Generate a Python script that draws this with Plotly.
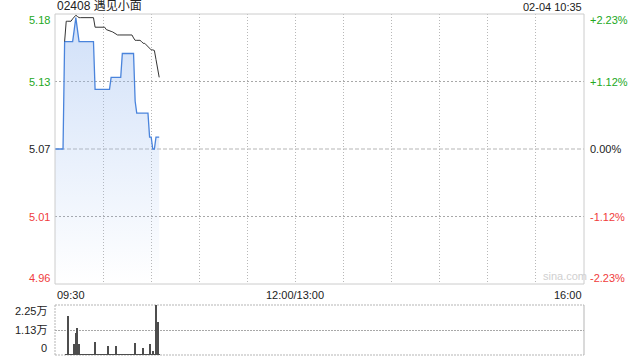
import plotly.graph_objects as go

# ---------------- data ----------------
title_text = "02408 遇见小面"
stamp_text = "02-04 10:35"
prev_close = 5.07
pct_levels = [0.0223, 0.01115, 0.0, -0.01115, -0.0223]
price_tick_labels = ["5.18", "5.13", "5.07", "5.01", "4.96"]
pct_tick_labels = ["+2.23%", "+1.12%", "0.00%", "-1.12%", "-2.23%"]
tick_colors = ["#22a822", "#22a822", "#222222", "#f03c3c", "#f03c3c"]
time_labels = ["09:30", "12:00/13:00", "16:00"]
time_label_pos = [0, 150, 330]          # minutes of trading session
total_minutes = 330
grid_minutes = [30, 60, 90, 120, 150, 180, 210, 240, 270, 300]

minutes = list(range(66))               # 09:30 .. 10:35
price = [5.07, 5.07, 5.07, 5.07, 5.07, 5.07,
         5.16, 5.16, 5.16, 5.16, 5.16,
         5.16, 5.17, 5.18, 5.17, 5.16,
         5.16, 5.16, 5.16, 5.16, 5.16, 5.16, 5.16, 5.16, 5.16,
         5.12, 5.12, 5.12, 5.12, 5.12, 5.12, 5.12, 5.12, 5.12, 5.12,
         5.13, 5.13, 5.13, 5.13, 5.13, 5.13, 5.13,
         5.15, 5.15, 5.15, 5.15, 5.15, 5.15, 5.15, 5.15,
         5.11,
         5.10, 5.10, 5.10, 5.10, 5.10, 5.10, 5.10, 5.10,
         5.08, 5.08,
         5.07, 5.07,
         5.08, 5.08, 5.08]
avg_price = [None, None, None, None, None, None,
             5.160,
             5.177, 5.177, 5.177, 5.177,
             5.179, 5.181, 5.182, 5.181, 5.180,
             5.180, 5.180, 5.180, 5.180, 5.180, 5.180, 5.180, 5.180, 5.180,
             5.172, 5.172, 5.172, 5.172, 5.172, 5.172, 5.172,
             5.170, 5.1697, 5.169, 5.1685, 5.168, 5.167, 5.166,
             5.1655, 5.1655, 5.1655, 5.1655, 5.1655, 5.1655, 5.1655, 5.1655, 5.1655, 5.1655,
             5.163, 5.161, 5.161, 5.161, 5.161,
             5.160, 5.1585, 5.1585, 5.157, 5.1557, 5.154, 5.153, 5.153, 5.1525,
             5.145, 5.136, 5.130]
volume = [0, 0, 0, 0, 0, 0, 0, 200, 17550, 300, 200, 400, 4950, 9750, 12300, 5000,
          300, 200, 300, 200, 300, 200, 300, 200, 400, 6000, 200, 300, 200, 300,
          200, 300, 400, 4000, 300, 200, 300, 200, 4000, 300, 200, 300, 400, 200,
          300, 200, 300, 200, 300, 400, 5500, 300, 200, 300, 400, 3300, 200, 300,
          400, 5000, 300, 1800, 300, 22500, 15000, 300]
vol_max = 22500
vol_tick_vals = [22500, 11250, 0]
vol_tick_labels = ["2.25万", "1.13万", "0"]

# ---------------- figure ----------------
FONT = "Liberation Sans, Arial, Noto Sans CJK SC, sans-serif"
y_top = prev_close * (1 + pct_levels[0])
y_bot = prev_close * (1 + pct_levels[-1])
grid_prices = [prev_close * (1 + pct_levels[1]), prev_close * (1 + pct_levels[3])]

fig = go.Figure()

fig.add_trace(go.Scatter(
    x=minutes, y=price, mode="lines",
    line=dict(color="#4a84dc", width=1.3),
    fill="tozeroy",
    fillgradient=dict(type="vertical",
                      colorscale=[[0, "rgba(150,185,240,0.0)"], [1, "rgba(150,185,240,0.45)"]],
                      start=y_bot, stop=y_top),
    hoverinfo="skip", xaxis="x", yaxis="y"))

fig.add_trace(go.Scatter(
    x=minutes, y=avg_price, mode="lines",
    line=dict(color="#333333", width=1),
    hoverinfo="skip", xaxis="x", yaxis="y"))

fig.add_trace(go.Bar(
    x=minutes, y=volume, width=0.6,
    marker=dict(color="#4d4d4d", line=dict(width=0)),
    hoverinfo="skip", xaxis="x2", yaxis="y2"))

main_dom = [71 / 341, 1]
vol_dom = [0, 50 / 341]

fig.update_layout(
    width=640, height=360,
    margin=dict(l=55, r=56, t=14, b=5),
    paper_bgcolor="white", plot_bgcolor="white",
    showlegend=False, bargap=0,
    font=dict(family=FONT, size=11, color="#222"),
    xaxis=dict(range=[0, total_minutes], domain=[0, 1], anchor="y",
               tickvals=grid_minutes, showticklabels=False, ticks="",
               showgrid=True, gridcolor="#b8b8b8", griddash="1px,2px", gridwidth=1,
               zeroline=False, showline=False),
    yaxis=dict(range=[y_bot, y_top], domain=main_dom, anchor="x",
               tickvals=grid_prices, showticklabels=False, ticks="",
               showgrid=True, gridcolor="#a8a8a8", griddash="2px,2px", gridwidth=1,
               zeroline=False, showline=False),
    xaxis2=dict(range=[0, total_minutes], domain=[0, 1], anchor="y2", matches="x",
                showticklabels=False, ticks="", showgrid=False, zeroline=False, showline=False),
    yaxis2=dict(range=[0, vol_max], domain=vol_dom, anchor="x2",
                tickvals=[vol_tick_vals[1]], showticklabels=False, ticks="",
                showgrid=True, gridcolor="#a8a8a8", griddash="2px,1px", gridwidth=1,
                zeroline=False, showline=False),
)

shapes = []
# main panel border
shapes.append(dict(type="rect", xref="x domain", yref="y domain", x0=0, x1=1, y0=0, y1=1,
                   line=dict(color="#cccccc", width=1), layer="above"))
# previous close dashed line
shapes.append(dict(type="line", xref="x domain", yref="y", x0=0, x1=1,
                   y0=prev_close, y1=prev_close,
                   line=dict(color="#b5b5b5", width=1, dash="4px,2px"), layer="below"))
# volume panel border (dotted top/bottom/left, solid right)
for (x0, x1, y0, y1, dash) in [(0, 1, 1, 1, "2px,1px"), (0, 1, 0, 0, "2px,1px"),
                               (0, 0, 0, 1, "2px,1px"), (1, 1, 0, 1, "solid")]:
    shapes.append(dict(type="line", xref="x2 domain", yref="y2 domain",
                       x0=x0, x1=x1, y0=y0, y1=y1,
                       line=dict(color="#b5b5b5", width=1, dash=dash), layer="below"))
fig.update_layout(shapes=shapes)

ann = []
ann.append(dict(text=title_text, xref="paper", yref="paper", x=0, y=1, xanchor="left",
                yanchor="bottom", yshift=-1, showarrow=False,
                font=dict(size=12, color="#222")))
ann.append(dict(text=stamp_text, xref="paper", yref="paper", x=1, y=1, xanchor="right",
                yanchor="bottom", yshift=-1, showarrow=False,
                font=dict(size=11, color="#222")))
n = len(pct_levels)
for i, (lvl, lt, rt, col) in enumerate(zip(pct_levels, price_tick_labels, pct_tick_labels, tick_colors)):
    yv = prev_close * (1 + lvl)
    ys = -6 if i == 0 else (6 if i == n - 1 else 0)
    ann.append(dict(text=lt, xref="paper", yref="y", x=0, y=yv, xanchor="right",
                    yanchor="middle", xshift=-3, yshift=ys, showarrow=False,
                    font=dict(size=11, color=col)))
    ann.append(dict(text=rt, xref="paper", yref="y", x=1, y=yv, xanchor="left",
                    yanchor="middle", xshift=4, yshift=ys, showarrow=False,
                    font=dict(size=11, color=col)))
anchors = ["left", "center", "right"]
for lab, pos, anc in zip(time_labels, time_label_pos, anchors):
    ann.append(dict(text=lab, xref="x", yref="y domain", x=pos, y=0, xanchor=anc,
                    yanchor="top", yshift=-3, showarrow=False,
                    font=dict(size=11, color="#222")))
for i, (v, lab) in enumerate(zip(vol_tick_vals, vol_tick_labels)):
    ys = -6 if i == 0 else (7 if i == len(vol_tick_vals) - 1 else 0)
    ann.append(dict(text=lab, xref="paper", yref="y2", x=0, y=v, xanchor="right",
                    yanchor="middle", xshift=-6, yshift=ys, showarrow=False,
                    font=dict(size=11, color="#222")))
ann.append(dict(text="sina.com", xref="paper", yref="y domain", x=0.965, y=0, xanchor="center",
                yanchor="bottom", yshift=0, showarrow=False,
                font=dict(size=11, color="#d0d0d0")))
fig.update_layout(annotations=ann)

fig.write_html("out.html")
